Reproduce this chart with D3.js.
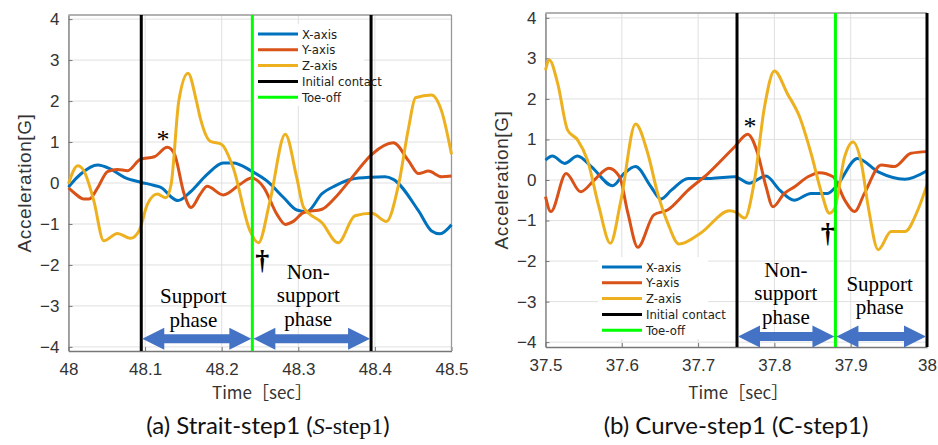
<!DOCTYPE html>
<html>
<head>
<meta charset="utf-8">
<script src="https://cdn.jsdelivr.net/npm/d3@7"></script>
<style>
    body { margin: 0; background: #fff; }
    svg { display: block; }
</style>
</head>
<body>
<div id="chart"></div>
<script>
// Straight walking, step 1: [time (sec), acceleration (G)].
var straightX = [[48.000,-0.10],[48.003,-0.03],[48.016,0.22],[48.038,0.44],[48.055,0.34],[48.073,0.14],[48.094,0.02],[48.112,-0.06],[48.122,-0.12],[48.134,-0.34],[48.143,-0.43],[48.159,-0.22],[48.181,0.21],[48.202,0.49],[48.215,0.49],[48.239,0.29],[48.259,0.05],[48.281,-0.36],[48.298,-0.66],[48.311,-0.70],[48.331,-0.26],[48.348,-0.07],[48.369,0.09],[48.395,0.14],[48.413,0.15],[48.424,0.09],[48.457,-0.68],[48.474,-1.17],[48.485,-1.24],[48.500,-1.02]];
var straightY = [[48.000,-0.12],[48.008,-0.25],[48.020,-0.39],[48.027,-0.39],[48.038,-0.12],[48.051,0.28],[48.064,0.33],[48.077,0.30],[48.094,0.58],[48.112,0.64],[48.129,0.87],[48.138,0.72],[48.151,-0.27],[48.160,-0.60],[48.172,-0.27],[48.181,-0.08],[48.202,-0.29],[48.224,-0.03],[48.239,0.12],[48.255,-0.11],[48.272,-0.76],[48.283,-1.01],[48.294,-0.93],[48.307,-0.72],[48.331,-0.64],[48.348,-0.36],[48.370,0.13],[48.396,0.70],[48.424,0.98],[48.444,0.54],[48.457,0.23],[48.470,0.29],[48.487,0.15],[48.500,0.17]];
var straightZ = [[48.000,-0.02],[48.012,0.42],[48.020,0.30],[48.033,-0.43],[48.046,-1.41],[48.064,-1.23],[48.081,-1.35],[48.092,-1.17],[48.103,-0.52],[48.116,-0.27],[48.127,-0.36],[48.134,-0.03],[48.144,2.00],[48.156,2.68],[48.167,2.00],[48.172,1.59],[48.185,1.02],[48.200,0.94],[48.215,0.37],[48.237,-1.17],[48.248,-1.46],[48.263,-0.44],[48.283,1.19],[48.298,0.13],[48.307,-0.60],[48.331,-0.97],[48.352,-1.46],[48.374,-0.80],[48.396,-0.74],[48.415,-0.94],[48.431,-0.03],[48.444,1.35],[48.453,2.08],[48.474,2.15],[48.487,1.76],[48.500,0.70]];
var straightContacts = [48.095, 48.395];
var straightToeOff = [48.24];

// Curve walking, step 1.
var curveX = [[37.500,0.49],[37.509,0.59],[37.525,0.41],[37.542,0.59],[37.560,0.33],[37.588,-0.14],[37.603,0.16],[37.618,0.33],[37.638,-0.16],[37.651,-0.47],[37.665,-0.25],[37.687,0.04],[37.717,0.04],[37.748,0.08],[37.767,-0.08],[37.789,0.10],[37.807,-0.25],[37.826,-0.50],[37.848,-0.33],[37.870,-0.33],[37.881,-0.16],[37.909,0.53],[37.936,0.20],[37.971,0.02],[38.000,0.23]];
var curveY = [[37.500,-0.41],[37.507,-0.78],[37.527,0.16],[37.546,-0.29],[37.564,0.00],[37.583,0.29],[37.597,0.08],[37.608,-0.82],[37.621,-1.66],[37.642,-0.86],[37.660,-0.74],[37.687,-0.25],[37.713,0.16],[37.748,0.82],[37.765,1.13],[37.778,0.66],[37.789,-0.16],[37.798,-0.66],[37.813,-0.33],[37.827,-0.16],[37.844,0.08],[37.859,0.18],[37.877,0.08],[37.892,-0.49],[37.905,-0.78],[37.918,-0.33],[37.940,0.37],[37.957,0.33],[37.979,0.66],[38.000,0.70]];
var curveZ = [[37.500,2.71],[37.505,2.96],[37.516,2.38],[37.529,1.23],[37.542,0.99],[37.555,0.49],[37.570,-0.66],[37.585,-1.56],[37.599,-0.49],[37.618,1.38],[37.634,0.66],[37.647,-0.33],[37.660,-1.05],[37.675,-1.58],[37.704,-1.30],[37.741,-0.76],[37.750,-0.80],[37.761,-0.94],[37.774,0.00],[37.787,1.80],[37.800,2.69],[37.817,2.13],[37.833,1.56],[37.848,0.66],[37.862,-0.33],[37.872,-0.82],[37.879,-0.70],[37.892,0.57],[37.903,0.94],[37.914,0.41],[37.923,-0.66],[37.936,-1.72],[37.953,-1.27],[37.971,-1.27],[37.988,-0.74],[38.000,-0.12]];
var curveContacts = [37.751, 38.0];
var curveToeOff = [37.88];

var yTicks = [-4, -3, -2, -1, 0, 1, 2, 3, 4];
var straightTicks = [48, 48.1, 48.2, 48.3, 48.4, 48.5];
var curveTicks = [37.5, 37.6, 37.7, 37.8, 37.9, 38];
var legendNames = ['X-axis', 'Y-axis', 'Z-axis', 'Initial contact', 'Toe-off'];
var seriesColors = ['#0072BD', '#D95319', '#EDB120', '#000000', '#00FF00'];

var width = 938, height = 445;

var svg = d3.select('#chart').append('svg')
    .attr('width', width)
    .attr('height', height)
    .style('background', '#fff');

function drawPanel(cfg) {
    var x = d3.scaleLinear().domain(cfg.xDomain).range([cfg.left, cfg.right]);
    var y = d3.scaleLinear().domain(cfg.yDomain).range([cfg.bottom, cfg.top]);
    var g = svg.append('g');

    // Grid.
    g.selectAll('.vgrid').data(cfg.xTicks).enter().append('line')
        .attr('x1', d => x(d)).attr('x2', d => x(d))
        .attr('y1', cfg.top).attr('y2', cfg.bottom)
        .attr('stroke', '#e0e0e0').attr('stroke-width', 1);
    g.selectAll('.hgrid').data(yTicks).enter().append('line')
        .attr('x1', cfg.left).attr('x2', cfg.right)
        .attr('y1', d => y(d)).attr('y2', d => y(d))
        .attr('stroke', '#e0e0e0').attr('stroke-width', 1);

    // Axes (ticks point inward, like the original tool).
    var xAxis = g.append('g')
        .attr('transform', 'translate(0,' + cfg.bottom + ')')
        .call(d3.axisBottom(x).tickValues(cfg.xTicks).tickSizeInner(-4).tickSizeOuter(0).tickPadding(12)
            .tickFormat(d3.format('')));
    var yAxis = g.append('g')
        .attr('transform', 'translate(' + cfg.left + ',0)')
        .call(d3.axisLeft(y).tickValues(yTicks).tickSizeInner(-4).tickSizeOuter(0).tickPadding(9)
            .tickFormat(d => d < 0 ? '\u2212' + Math.abs(d) : d));
    [xAxis, yAxis].forEach(function(a) {
        a.selectAll('path').attr('stroke', '#777').attr('stroke-width', 1.3);
        a.selectAll('line').attr('stroke', '#777');
        a.selectAll('text')
            .attr('fill', '#333')
            .style('font-family', '"Liberation Sans", Arial, sans-serif')
            .style('font-size', '17px');
    });

    // Top and right box edges.
    g.append('line').attr('x1', cfg.left).attr('x2', cfg.right).attr('y1', cfg.top).attr('y2', cfg.top)
        .attr('stroke', '#999').attr('stroke-width', 1.3);
    g.append('line').attr('x1', cfg.right).attr('x2', cfg.right).attr('y1', cfg.top).attr('y2', cfg.bottom)
        .attr('stroke', '#999').attr('stroke-width', 1.3);

    // Signal lines.
    var line = d3.line()
        .x(d => x(d[0]))
        .y(d => y(d[1]))
        .curve(d3.curveMonotoneX);
    [cfg.sx, cfg.sy, cfg.sz].forEach(function(s, i) {
        g.append('path')
            .datum(s)
            .attr('d', line)
            .attr('fill', 'none')
            .attr('stroke', seriesColors[i])
            .attr('stroke-width', 3)
            .attr('stroke-linejoin', 'round');
    });

    // Gait events.
    g.selectAll('.contact').data(cfg.contacts).enter().append('line')
        .attr('x1', d => x(d)).attr('x2', d => x(d))
        .attr('y1', cfg.top).attr('y2', cfg.bottom)
        .attr('stroke', '#000').attr('stroke-width', 3);
    g.selectAll('.toeoff').data(cfg.toeOff).enter().append('line')
        .attr('x1', d => x(d)).attr('x2', d => x(d))
        .attr('y1', cfg.top).attr('y2', cfg.bottom)
        .attr('stroke', '#00FF00').attr('stroke-width', 3);

    // Legend.
    var lg = g.append('g').attr('transform', 'translate(' + cfg.legend[0] + ',' + cfg.legend[1] + ')');
    lg.append('rect').attr('width', 110).attr('height', 82).attr('fill', '#fff');
    legendNames.forEach(function(name, i) {
        var ly = 10 + i * 15.8;
        lg.append('line').attr('x1', 4).attr('x2', 44).attr('y1', ly).attr('y2', ly)
            .attr('stroke', seriesColors[i]).attr('stroke-width', 3);
        lg.append('text').attr('x', 48).attr('y', ly + 4.5)
            .text(name)
            .attr('fill', '#222')
            .style('font-family', '"Liberation Sans Narrow", "DejaVu Sans Condensed", sans-serif')
            .style('font-size', '13px');
    });

    // Phase arrows, between gait events.
    cfg.arrows.forEach(function(a) {
        var x1 = x(a[0]) + 1, x2 = x(a[1]) - 1, ay = y(cfg.arrowY);
        var hl = 22, hh = 11, sh = 4.5;
        var p = d3.path();
        p.moveTo(x1, ay);
        p.lineTo(x1 + hl, ay - hh);
        p.lineTo(x1 + hl, ay - sh);
        p.lineTo(x2 - hl, ay - sh);
        p.lineTo(x2 - hl, ay - hh);
        p.lineTo(x2, ay);
        p.lineTo(x2 - hl, ay + hh);
        p.lineTo(x2 - hl, ay + sh);
        p.lineTo(x1 + hl, ay + sh);
        p.lineTo(x1 + hl, ay + hh);
        p.closePath();
        g.append('path').attr('d', p.toString()).attr('fill', '#4472C4');
    });

    // Phase labels and markers.
    cfg.labels.forEach(function(l) {
        var t = g.append('text')
            .attr('x', x(l.t)).attr('y', y(l.v))
            .attr('text-anchor', 'middle')
            .attr('fill', '#000')
            .style('font-family', '"Liberation Serif", "Times New Roman", serif')
            .style('font-size', l.size + 'px');
        if(l.bold) t.style('font-weight', 'bold');
        l.lines.forEach(function(s, i) {
            t.append('tspan').attr('x', x(l.t)).attr('dy', i == 0 ? 0 : 23.5).text(s);
        });
    });

    // Axis titles.
    g.append('text')
        .attr('x', (cfg.left + cfg.right) / 2 + 2).attr('y', 399)
        .attr('text-anchor', 'middle')
        .attr('fill', '#333')
        .style('font-family', '"Noto Sans CJK JP", sans-serif')
        .style('font-size', '17px')
        .text('Time［sec］');
    g.append('text')
        .attr('transform', 'translate(' + cfg.yTitleX + ',' + ((cfg.top + cfg.bottom) / 2) + ') rotate(-90)')
        .attr('text-anchor', 'middle')
        .attr('fill', '#333')
        .style('font-family', '"Liberation Sans", Arial, sans-serif')
        .style('font-size', '19px')
        .style('letter-spacing', '0.6px')
        .text('Acceleration[G]');

    // Caption.
    var cap = g.append('text')
        .attr('x', cfg.captionX).attr('y', 434)
        .attr('text-anchor', 'middle')
        .attr('fill', '#111')
        .style('font-family', 'Lato, "Open Sans", sans-serif')
        .style('font-size', '24px');
    cfg.caption.forEach(function(c) {
        var ts = cap.append('tspan').text(c.s);
        if(c.serif) ts.style('font-family', '"Liberation Serif", serif');
        if(c.italic) ts.style('font-style', 'italic');
    });
}

drawPanel({
    xDomain: [48, 48.5], yDomain: [-4.1, 4.1],
    left: 68.5, right: 451.5, top: 15, bottom: 351,
    xTicks: straightTicks,
    sx: straightX, sy: straightY, sz: straightZ,
    contacts: straightContacts, toeOff: straightToeOff,
    legend: [254, 24],
    arrowY: -3.8,
    arrows: [[straightContacts[0], straightToeOff[0]], [straightToeOff[0], straightContacts[1]]],
    labels: [
        { t: 48.163, v: -2.93, size: 21, lines: ['Support', 'phase'] },
        { t: 48.313, v: -2.34, size: 21, lines: ['Non-', 'support', 'phase'] },
        { t: 48.1235, v: 0.85, size: 26, lines: ['*'] },
        { t: 48.253, v: -2.1, size: 28, lines: ['\u2020'], bold: true }
    ],
    yTitleX: 31,
    captionX: 268,
    caption: [{ s: '(a) Strait-step1 (' }, { s: 'S', serif: true, italic: true }, { s: '-step1', serif: true }, { s: ')' }]
});

drawPanel({
    xDomain: [37.5, 38], yDomain: [-4.12, 4.12],
    left: 545.5, right: 927, top: 13, bottom: 347,
    xTicks: curveTicks,
    sx: curveX, sy: curveY, sz: curveZ,
    contacts: curveContacts, toeOff: curveToeOff,
    legend: [598, 257],
    arrowY: -3.86,
    arrows: [[curveContacts[0], curveToeOff[0]], [curveToeOff[0], curveContacts[1]]],
    labels: [
        { t: 37.815, v: -2.39, size: 21, lines: ['Non-', 'support', 'phase'] },
        { t: 37.938, v: -2.73, size: 21, lines: ['Support', 'phase'] },
        { t: 37.768, v: 1.1, size: 26, lines: ['*'] },
        { t: 37.87, v: -1.53, size: 28, lines: ['\u2020'], bold: true }
    ],
    yTitleX: 508,
    captionX: 736,
    caption: [{ s: '(b) Curve-step1 (C-step1)' }]
});
</script>
</body>
</html>
